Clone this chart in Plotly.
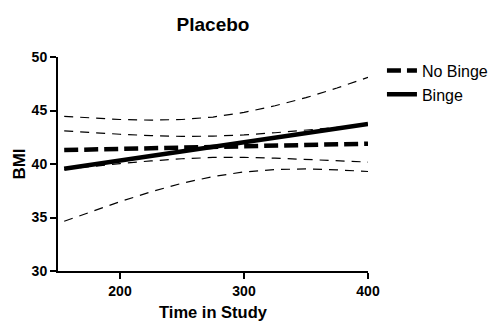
import plotly.graph_objects as go

time = [155, 175, 200, 225, 250, 275, 300, 325, 350, 375, 400]

nobinge_mean = [41.30, 41.35, 41.41, 41.47, 41.53, 41.59, 41.66, 41.72, 41.78, 41.84, 41.90]
nobinge_upper = [43.10, 42.95, 42.78, 42.65, 42.58, 42.60, 42.72, 42.92, 43.15, 43.42, 43.70]
nobinge_lower = [39.50, 39.75, 40.04, 40.29, 40.49, 40.61, 40.62, 40.55, 40.45, 40.32, 40.18]

binge_mean = [39.55, 39.89, 40.32, 40.75, 41.18, 41.61, 42.04, 42.46, 42.89, 43.32, 43.75]
binge_upper = [44.45, 44.30, 44.16, 44.10, 44.16, 44.39, 44.82, 45.44, 46.20, 47.10, 48.10]
binge_lower = [34.65, 35.48, 36.48, 37.40, 38.20, 38.83, 39.26, 39.48, 39.54, 39.45, 39.30]

x_ticks = [200, 300, 400]
y_ticks = [30, 35, 40, 45, 50]

thin = dict(color="black", width=1.2, dash="9px,7px")

fig = go.Figure()
for ys in [binge_upper, binge_lower, nobinge_upper, nobinge_lower]:
    fig.add_trace(go.Scatter(x=time, y=ys, mode="lines", line=thin,
                             showlegend=False, hoverinfo="skip"))
fig.add_trace(go.Scatter(x=time, y=nobinge_mean, mode="lines", name="No Binge",
                         legendgroup="nb",
                         line=dict(color="black", width=4.5, dash="14px,6px")))
fig.add_trace(go.Scatter(x=time, y=binge_mean, mode="lines", name="Binge",
                         legendgroup="b",
                         line=dict(color="black", width=4.5)))

font_family = "Liberation Sans, Arial, sans-serif"
fig.update_layout(
    width=494, height=323,
    margin=dict(l=58, r=126, t=57, b=52, autoexpand=False),
    paper_bgcolor="white", plot_bgcolor="white",
    font=dict(family=font_family, color="black"),
    title=dict(text="<b>Placebo</b>", x=0.5, xref="paper", xanchor="center",
               y=1 - 24 / 323, yanchor="middle", font=dict(size=19)),
    showlegend=True,
    legend=dict(x=1.045, y=1.016, xanchor="left", yanchor="top",
                font=dict(size=16), bgcolor="rgba(0,0,0,0)",
                tracegroupgap=0, itemwidth=30),
    xaxis=dict(range=[150, 400], tickvals=x_ticks, showgrid=False, zeroline=False,
               automargin=False,
               showline=True, linecolor="black", linewidth=2,
               ticks="outside", ticklen=6, tickwidth=2, tickcolor="black",
               tickfont=dict(size=14, family=font_family, weight="bold"),
               title=dict(text="<b>Time in Study</b>", font=dict(size=16.5), standoff=9)),
    yaxis=dict(range=[30, 50], tickvals=y_ticks, showgrid=False, zeroline=False,
               automargin=False,
               showline=True, linecolor="black", linewidth=2,
               ticks="outside", ticklen=6, tickwidth=2, tickcolor="black",
               tickfont=dict(size=14, family=font_family, weight="bold"),
               title=dict(text="<b>BMI</b>", font=dict(size=17), standoff=2)),
)

fig.write_html("out.html", config={"displayModeBar": False},
               post_script="document.body.style.margin='0';document.body.style.overflow='hidden';")
